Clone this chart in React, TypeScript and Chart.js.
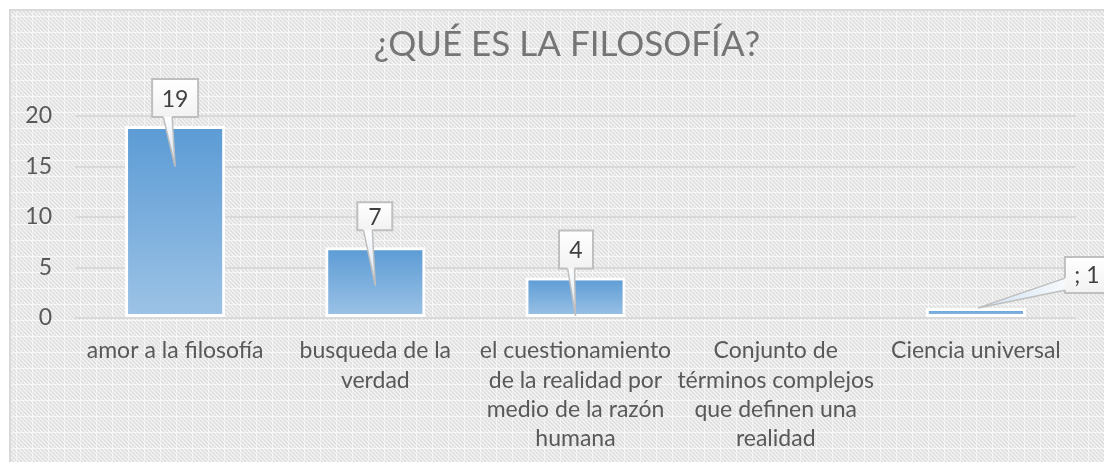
import React, { useEffect, useRef } from "react";
import { Chart, registerables } from "chart.js";

Chart.register(...registerables);

const titleText = "¿QUÉ ES LA FILOSOFÍA?";
const categories: string[][] = [
  ["amor a la filosofía"],
  ["busqueda de la", "verdad"],
  ["el cuestionamiento", "de la realidad por", "medio de la razón", "humana"],
  ["Conjunto de", "términos complejos", "que definen una", "realidad"],
  ["Ciencia universal"],
];
const values: (number | null)[] = [19, 7, 4, null, 1];
const labelPrefixes = ["", "", "", "", "; "];
const yMin = 0;
const yMax = 20;
const yStep = 5;

// callout geometry (style only)
const calloutGeom = [
  { side: "bottom", dx: 0, dy: -9, w: 46, h: 38, b0: -12, b1: -3, tipDx: 0, tipVal: 15 },
  { side: "bottom", dx: -0.5, dy: -17, w: 35, h: 28, b0: -11.5, b1: -2.5, tipDx: 0, tipVal: 3.2 },
  { side: "bottom", dx: 0.5, dy: -9, w: 34, h: 38, b0: -8.5, b1: -1.5, tipDx: 0, tipVal: 0.2 },
  null,
  { side: "left", dx: 111, dy: -15, w: 44, h: 36, b0: -15, b1: -3, tipDx: 2, tipVal: 1 },
];

const FONT = "Lato, 'Open Sans', sans-serif";

function makePattern(ctx: CanvasRenderingContext2D) {
  const c = document.createElement("canvas");
  c.width = 16;
  c.height = 16;
  const p = c.getContext("2d")!;
  p.fillStyle = "#f7f7f7";
  p.fillRect(0, 0, 16, 16);
  p.strokeStyle = "#dedede";
  p.lineWidth = 1.6;
  for (let k = -16; k <= 32; k += 4) {
    p.beginPath();
    p.moveTo(k, 0);
    p.lineTo(k + 16, 16);
    p.stroke();
  }
  p.fillStyle = "rgba(255,255,255,0.55)";
  p.fillRect(0, 0, 16, 1);
  p.fillRect(0, 0, 1, 16);
  return ctx.createPattern(c, "repeat");
}

const bgPlugin = {
  id: "bgPlugin",
  beforeDraw(chart: any) {
    const ctx = chart.ctx as CanvasRenderingContext2D;
    ctx.save();
    ctx.fillStyle = "#ffffff";
    ctx.fillRect(0, 0, chart.width, chart.height);
    const pat = makePattern(ctx);
    if (pat) {
      ctx.fillStyle = pat;
      ctx.fillRect(10, 10, chart.width - 10, chart.height - 10);
    }
    ctx.strokeStyle = "#d9d9d9";
    ctx.lineWidth = 2;
    ctx.beginPath();
    ctx.moveTo(10, chart.height);
    ctx.lineTo(10, 10);
    ctx.lineTo(chart.width, 10);
    ctx.stroke();
    // title
    ctx.fillStyle = "#757575";
    ctx.font = `400 35px ${FONT}`;
    ctx.textAlign = "center";
    ctx.textBaseline = "middle";
    ctx.fillText(titleText, chart.width / 2, 45);
    ctx.restore();
  },
};

const calloutPlugin = {
  id: "calloutPlugin",
  afterDatasetsDraw(chart: any) {
    const ctx = chart.ctx as CanvasRenderingContext2D;
    const meta = chart.getDatasetMeta(0);
    const yScale = chart.scales.y;
    meta.data.forEach((bar: any, i: number) => {
      const g = calloutGeom[i];
      const v = values[i];
      if (!g || v == null) return;
      const cx = bar.x + g.dx;
      const bottom = bar.y + g.dy;
      const top = bottom - g.h;
      const left = cx - g.w / 2;
      const tipX = bar.x + g.tipDx;
      const tipY = yScale.getPixelForValue(g.tipVal);
      if (![cx, bottom, tipX, tipY].every(Number.isFinite)) return;
      ctx.save();
      // wedge
      ctx.beginPath();
      if (g.side === "bottom") {
        ctx.moveTo(cx + g.b0, bottom - 1);
        ctx.lineTo(tipX, tipY);
        ctx.lineTo(cx + g.b1, bottom - 1);
      } else {
        ctx.moveTo(left + 1, bottom + g.b0);
        ctx.lineTo(tipX, tipY);
        ctx.lineTo(left + 1, bottom + g.b1);
      }
      const wg = ctx.createLinearGradient(cx, bottom, tipX, tipY);
      wg.addColorStop(0, "#ffffff");
      wg.addColorStop(1, "#cfe0f1");
      ctx.fillStyle = wg;
      ctx.fill();
      ctx.strokeStyle = "#bfbfbf";
      ctx.lineWidth = 1.5;
      ctx.stroke();
      // box
      const bg = ctx.createLinearGradient(0, top, 0, bottom);
      bg.addColorStop(0, "#ffffff");
      bg.addColorStop(1, "#f2f2f2");
      ctx.fillStyle = bg;
      ctx.fillRect(left, top, g.w, g.h);
      ctx.strokeStyle = "#bfbfbf";
      ctx.lineWidth = 2;
      ctx.beginPath();
      if (g.side === "bottom") {
        ctx.moveTo(cx + g.b0, bottom);
        ctx.lineTo(left, bottom);
        ctx.lineTo(left, top);
        ctx.lineTo(left + g.w, top);
        ctx.lineTo(left + g.w, bottom);
        ctx.lineTo(cx + g.b1, bottom);
      } else {
        ctx.moveTo(left, bottom + g.b0);
        ctx.lineTo(left, top);
        ctx.lineTo(left + g.w, top);
        ctx.lineTo(left + g.w, bottom);
        ctx.lineTo(left, bottom);
        ctx.lineTo(left, bottom + g.b1);
      }
      ctx.stroke();
      ctx.fillStyle = "#404040";
      ctx.font = `23px ${FONT}`;
      ctx.textAlign = "center";
      ctx.textBaseline = "middle";
      ctx.fillText(labelPrefixes[i] + String(v), cx, (top + bottom) / 2 + 1);
      ctx.restore();
    });
  },
};

export default function App() {
  const ref = useRef<HTMLCanvasElement | null>(null);
  useEffect(() => {
    if (!ref.current) return;
    const chart = new Chart(ref.current, {
      type: "bar",
      data: {
        labels: categories,
        datasets: [
          {
            data: values,
            backgroundColor: (c: any) => {
              const ch = c.chart;
              const ys = ch.scales?.y;
              if (!ys || c.raw == null) return "#5b9bd5";
              const t = ys.getPixelForValue(c.raw);
              const b = ys.getPixelForValue(0);
              if (!Number.isFinite(t) || !Number.isFinite(b) || t === b) return "#5b9bd5";
              const gr = ch.ctx.createLinearGradient(0, t, 0, b);
              gr.addColorStop(0, "#5b9bd5");
              gr.addColorStop(1, "#9dc3e6");
              return gr;
            },
            borderColor: "#ffffff",
            borderWidth: 3,
            borderSkipped: false,
            categoryPercentage: 1,
            barPercentage: 0.5,
          },
        ],
      },
      options: {
        responsive: false,
        animation: false,
        devicePixelRatio: 1,
        layout: { padding: { top: 116, left: 0, right: 58, bottom: 0 } },
        plugins: {
          legend: { display: false },
          title: { display: false },
          tooltip: { enabled: false },
        },
        scales: {
          x: {
            grid: { display: false, drawTicks: false },
            border: { display: false },
            ticks: {
              color: "#595959",
              font: { family: FONT, size: 23, lineHeight: 1.28 },
              padding: 18,
              maxRotation: 0,
              autoSkip: false,
            },
            afterFit: (s: any) => {
              s.height = 462 - 318;
            },
          },
          y: {
            min: yMin,
            max: yMax,
            grid: { color: "#d9d9d9", lineWidth: 2, drawTicks: false },
            border: { display: false },
            ticks: {
              stepSize: yStep,
              color: "#595959",
              font: { family: FONT, size: 23 },
              padding: 23,
            },
            afterFit: (s: any) => {
              s.width = 75;
            },
          },
        },
      },
      plugins: [bgPlugin, calloutPlugin],
    } as any);
    return () => chart.destroy();
  }, []);
  return (
    <div style={{ position: "absolute", left: 0, top: 0, width: 1104, height: 462, overflow: "hidden" }}>
      <canvas ref={ref} width={1134} height={462} style={{ width: 1134, height: 462, display: "block" }} />
    </div>
  );
}
